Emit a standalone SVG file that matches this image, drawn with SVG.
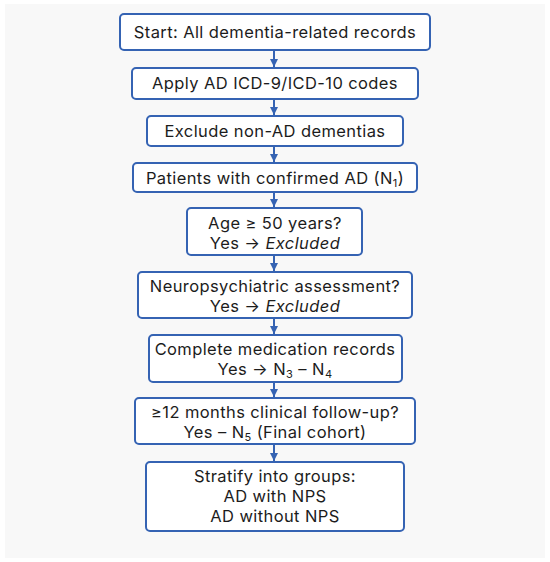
<svg xmlns="http://www.w3.org/2000/svg" width="550" height="562" viewBox="0 0 550 562">
<defs>
<marker id="ah" viewBox="0 0 10 10" refX="10" refY="5" markerWidth="9" markerHeight="8" orient="auto" markerUnits="userSpaceOnUse">
<path d="M0,0 L10,5 L0,10 z" fill="#3563b3"/>
</marker>
</defs>
<style>
.bg{fill:#f8f8f8}
.box{fill:#ffffff;stroke:#3563b3;stroke-width:2}
.t{font-family:Inter,"DejaVu Sans","Liberation Sans",Arial,sans-serif;font-size:16.5px;letter-spacing:0.4px;fill:#1c1c1c;text-anchor:middle}
.i{font-style:italic}
.s{font-size:11px}
.c{stroke:#3563b3;stroke-width:2;fill:none}
</style>
<rect class="bg" x="5" y="4" width="540" height="554"/>
<g id="connectors">
<line class="c" x1="274" y1="50" x2="274" y2="67" marker-end="url(#ah)"/>
<line class="c" x1="274" y1="99" x2="274" y2="115" marker-end="url(#ah)"/>
<line class="c" x1="274" y1="146" x2="274" y2="162" marker-end="url(#ah)"/>
<line class="c" x1="274" y1="192" x2="274" y2="207" marker-end="url(#ah)"/>
<line class="c" x1="274" y1="255" x2="274" y2="271" marker-end="url(#ah)"/>
<line class="c" x1="274" y1="318" x2="274" y2="334" marker-end="url(#ah)"/>
<line class="c" x1="274" y1="382" x2="274" y2="397" marker-end="url(#ah)"/>
<line class="c" x1="274" y1="444" x2="274" y2="461" marker-end="url(#ah)"/>
</g>
<g id="n1"><rect class="box" x="120" y="14" width="310" height="36" rx="4"/><text class="t" x="275" y="38">Start: All dementia-related records</text></g>
<g id="n2"><rect class="box" x="132" y="68" width="286" height="31" rx="4"/><text class="t" x="275" y="89">Apply AD ICD-9/ICD-10 codes</text></g>
<g id="n3"><rect class="box" x="147" y="116" width="256" height="30" rx="4"/><text class="t" x="275" y="137">Exclude non-AD dementias</text></g>
<g id="n4"><rect class="box" x="133" y="163" width="284" height="29" rx="4"/><text class="t" x="275" y="184">Patients with confirmed AD (N<tspan class="s" dy="3">1</tspan><tspan dy="-3">)</tspan></text></g>
<g id="n5"><rect class="box" x="187" y="208" width="175" height="47" rx="4"/><text class="t" x="275" y="229">Age ≥ 50 years?</text><text class="t" x="275" y="249">Yes →  <tspan class="i">Excluded</tspan></text></g>
<g id="n6"><rect class="box" x="138" y="272" width="274" height="46" rx="4"/><text class="t" x="275" y="292">Neuropsychiatric assessment?</text><text class="t" x="275" y="312">Yes →  <tspan class="i">Excluded</tspan></text></g>
<g id="n7"><rect class="box" x="149" y="335" width="253" height="47" rx="4"/><text class="t" x="275" y="355">Complete medication records</text><text class="t" x="275" y="375">Yes →   N<tspan class="s" dy="3">3</tspan><tspan dy="-3"> – N</tspan><tspan class="s" dy="3">4</tspan></text></g>
<g id="n8"><rect class="box" x="135" y="398" width="280" height="46" rx="4"/><text class="t" x="275" y="418">≥12 months clinical follow-up?</text><text class="t" x="275" y="438">Yes – N<tspan class="s" dy="3">5</tspan><tspan dy="-3"> (Final cohort)</tspan></text></g>
<g id="n9"><rect class="box" x="146" y="462" width="258" height="69" rx="4"/><text class="t" x="275" y="482">Stratify into groups:</text><text class="t" x="275" y="502">AD with NPS</text><text class="t" x="275" y="522">AD without NPS</text></g>
</svg>
